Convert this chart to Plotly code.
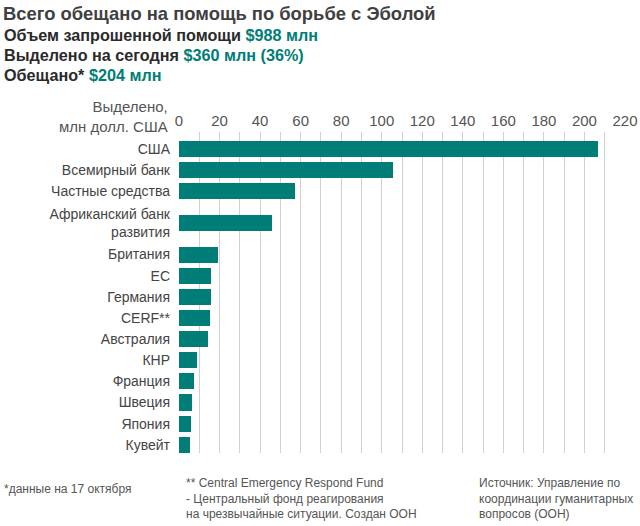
import plotly.graph_objects as go

categories = ["США", "Всемирный банк", "Частные средства", "Африканский банк<br>развития",
              "Британия", "ЕС", "Германия", "CERF**", "Австралия", "КНР",
              "Франция", "Швеция", "Япония", "Кувейт"]
values = [206.5, 105.4, 57.4, 45.7, 19.0, 16.0, 16.0, 15.4, 14.5, 8.9, 7.4, 6.4, 5.9, 5.4]
x_ticks = [0, 20, 40, 60, 80, 100, 120, 140, 160, 180, 200, 220]

title = "Всего обещано на помощь по борьбе с Эболой"
sub_labels = ["Объем запрошенной помощи", "Выделено на сегодня", "Обещано*"]
sub_values = ["$988 млн", "$360 млн (36%)", "$204 млн"]
axis_title = "Выделено,<br>млн долл. США"
foot_left = "*данные на 17 октября"
foot_mid = "** Central Emergency Respond Fund<br>- Центральный фонд реагирования<br>на чрезвычайные ситуации. Создан ООН"
foot_right = "Источник: Управление по<br>координации гуманитарных<br>вопросов (ООН)"

TEAL = "#007d77"
FONT = "Liberation Sans, Arial, sans-serif"

# slot layout: a two-line label takes two slots of height
pos = []
start = 0.0
for c in categories:
    n = c.count("<br>") + 1
    pos.append(start + n / 2)
    start += n

fig = go.Figure(go.Bar(
    x=values, y=pos, orientation="h", width=0.76,
    marker=dict(color=TEAL, line=dict(width=0)),
    hoverinfo="skip",
))

W, H = 640, 526
L, R, T, B = 179, 15, 132, 73
pw = W - L - R
ph = H - T - B

def px(xp):
    return (xp - L) / pw

def py(yp):
    return 1 - (yp - T) / ph

fig.update_layout(
    width=W, height=H,
    margin=dict(l=L, r=R, t=T, b=B, pad=0, autoexpand=False),
    paper_bgcolor="white", plot_bgcolor="white",
    font=dict(family=FONT, size=14, color="#444"),
    showlegend=False,
    bargap=0,
    xaxis=dict(
        range=[0, 220], side="top", tickvals=x_ticks,
        showgrid=True, gridcolor="#d0d0d0", gridwidth=1,
        minor=dict(dtick=10, showgrid=True, gridcolor="#d0d0d0", gridwidth=1),
        zeroline=False, showline=False, ticks="",
        tickfont=dict(size=15, color="#555"), ticklabelstandoff=2,
        fixedrange=True, automargin=False,
    ),
    yaxis=dict(
        range=[14.89, -0.30], tickvals=pos, ticktext=categories,
        showgrid=False, zeroline=False, showline=False, ticks="",
        tickfont=dict(size=14, color="#444"), ticklabelstandoff=8,
        fixedrange=True, automargin=False,
    ),
)

ann = []
ann.append(dict(text=f"<b>{title}</b>", x=px(1), y=py(13), xanchor="left", yanchor="middle",
                font=dict(size=18.4, color="#404040")))
for i, (lab, val) in enumerate(zip(sub_labels, sub_values)):
    ann.append(dict(text=f"<b>{lab} <span style='color:{TEAL}'>{val}</span></b>",
                    x=px(2), y=py(35 + 20 * i), xanchor="left", yanchor="middle",
                    font=dict(size=16.2, color="#2a2a2a")))
ann.append(dict(text=axis_title, x=px(170), y=py(116), xanchor="right", yanchor="middle",
                align="right", font=dict(size=15, color="#555")))
ann.append(dict(text=foot_left, x=px(2), y=py(480), xanchor="left", yanchor="top",
                align="left", font=dict(size=12, color="#555")))
ann.append(dict(text=foot_mid, x=px(184), y=py(474), xanchor="left", yanchor="top",
                align="left", font=dict(size=12, color="#555")))
ann.append(dict(text=foot_right, x=px(477), y=py(474), xanchor="left", yanchor="top",
                align="left", font=dict(size=12, color="#555")))
for a in ann:
    a.update(xref="paper", yref="paper", showarrow=False)
fig.update_layout(annotations=ann)

fig.write_html("out.html", config={"displayModeBar": False},
               post_script="document.body.style.margin='0';document.body.style.overflow='hidden';")
